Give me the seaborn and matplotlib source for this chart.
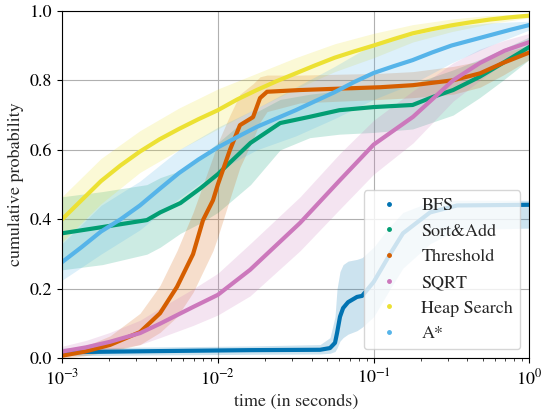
"""Cumulative probability of solving vs. time, per search algorithm."""

import matplotlib
matplotlib.use("Agg")
import matplotlib.pyplot as plt
import numpy as np
import pandas as pd
import seaborn as sns
from matplotlib.lines import Line2D

# each series: log10(time) positions, curve, lower / upper band
BFS_LOG_T = [-3, -2.435, -1.793, -1.344, -1.28, -1.248, -1.235, -1.216, -1.196, -1.164,
             -1.107, -1.074, -1.0, -0.895, -0.812, -0.638, -0.465, 0]
BFS_Y = [0.018, 0.021, 0.024, 0.025, 0.03, 0.045, 0.073, 0.12, 0.145, 0.162,
         0.177, 0.18, 0.22, 0.30, 0.36, 0.42, 0.44, 0.442]
BFS_LO = [0.008, 0.01, 0.012, 0.013, 0.015, 0.02, 0.03, 0.05, 0.06, 0.07,
          0.08, 0.09, 0.12, 0.2, 0.26, 0.33, 0.37, 0.375]
BFS_HI = [0.03, 0.033, 0.036, 0.04, 0.06, 0.12, 0.2, 0.25, 0.27, 0.28,
          0.285, 0.29, 0.32, 0.38, 0.42, 0.45, 0.455, 0.455]

SORT_LOG_T = [-3, -2.74, -2.455, -2.37, -2.24, -2.11, -2.0, -1.79, -1.6, -1.41,
              -1.22, -1.0, -0.75, -0.62, -0.49, -0.32, -0.17, 0]
SORT_Y = [0.36, 0.378, 0.398, 0.42, 0.447, 0.49, 0.53, 0.62, 0.677, 0.695,
          0.714, 0.723, 0.729, 0.752, 0.772, 0.81, 0.85, 0.896]
SORT_LO = [0.255, 0.27, 0.30, 0.32, 0.36, 0.39, 0.42, 0.50, 0.60, 0.635,
           0.645, 0.65, 0.66, 0.68, 0.70, 0.75, 0.80, 0.86]
SORT_HI = [0.465, 0.48, 0.50, 0.52, 0.54, 0.58, 0.62, 0.70, 0.745, 0.76,
           0.77, 0.78, 0.79, 0.81, 0.83, 0.86, 0.89, 0.925]

THR_LOG_T = [-3, -2.852, -2.692, -2.499, -2.371, -2.262, -2.159, -2.095, -2.031, -2.0, -1.922,
             -1.858, -1.774, -1.729, -1.684, -1.472, -0.959, -0.747, -0.49, -0.317, -0.169, 0]
THR_Y = [0.008, 0.02, 0.039, 0.076, 0.13, 0.206, 0.30, 0.398, 0.455, 0.50, 0.60,
         0.671, 0.694, 0.749, 0.767, 0.772, 0.78, 0.786, 0.80, 0.82, 0.85, 0.88]
THR_LO = [0.0, 0.008, 0.02, 0.04, 0.075, 0.12, 0.19, 0.25, 0.31, 0.35, 0.46,
          0.55, 0.63, 0.68, 0.71, 0.735, 0.745, 0.75, 0.76, 0.78, 0.815, 0.86]
THR_HI = [0.02, 0.035, 0.065, 0.13, 0.21, 0.31, 0.42, 0.50, 0.58, 0.62, 0.70,
          0.76, 0.79, 0.81, 0.815, 0.815, 0.82, 0.825, 0.84, 0.855, 0.88, 0.90]

SQRT_LOG_T = [-3, -2.846, -2.692, -2.499, -2.371, -2.159, -2.0, -1.793, -1.472, -1.216, -1.0,
              -0.747, -0.49, -0.317, -0.16, 0]
SQRT_Y = [0.02, 0.032, 0.048, 0.073, 0.10, 0.148, 0.183, 0.255, 0.39, 0.513, 0.615,
          0.695, 0.80, 0.85, 0.885, 0.91]
SQRT_LO = [0.005, 0.014, 0.025, 0.04, 0.06, 0.095, 0.125, 0.18, 0.31, 0.43, 0.53,
           0.62, 0.74, 0.80, 0.85, 0.88]
SQRT_HI = [0.035, 0.052, 0.075, 0.11, 0.145, 0.20, 0.245, 0.33, 0.465, 0.59, 0.685,
           0.77, 0.85, 0.89, 0.915, 0.935]

# Heap Search and A* curves on a fine grid, their bands on a coarse one
FINE_LOG_T = [-3, -2.875, -2.75, -2.625, -2.5, -2.375, -2.25, -2.125, -2, -1.875, -1.75,
              -1.625, -1.5, -1.375, -1.25, -1.125, -1, -0.875, -0.75, -0.625, -0.5,
              -0.375, -0.25, -0.125, 0]
HEAP_Y = [0.40, 0.455, 0.51, 0.555, 0.595, 0.63, 0.66, 0.688, 0.714, 0.745, 0.772,
          0.797, 0.82, 0.843, 0.865, 0.883, 0.90, 0.918, 0.935, 0.947, 0.958,
          0.967, 0.975, 0.981, 0.986]
ASTAR_Y = [0.277, 0.32, 0.365, 0.40, 0.44, 0.487, 0.533, 0.572, 0.607, 0.637, 0.666,
           0.69, 0.714, 0.74, 0.766, 0.795, 0.821, 0.84, 0.858, 0.88, 0.90,
           0.915, 0.93, 0.945, 0.959]

BAND_LOG_T = [-3, -2.75, -2.5, -2.25, -2, -1.75, -1.5, -1.25, -1, -0.75, -0.5, -0.25, 0]
HEAP_LO = [0.335, 0.445, 0.535, 0.60, 0.66, 0.72, 0.775, 0.825, 0.865, 0.91, 0.94, 0.963, 0.98]
HEAP_HI = [0.465, 0.575, 0.655, 0.72, 0.775, 0.82, 0.865, 0.905, 0.935, 0.96, 0.976, 0.987, 0.992]
ASTAR_LO = [0.225, 0.30, 0.37, 0.46, 0.54, 0.60, 0.64, 0.69, 0.745, 0.79, 0.85, 0.90, 0.945]
ASTAR_HI = [0.33, 0.44, 0.51, 0.60, 0.665, 0.72, 0.78, 0.84, 0.905, 0.93, 0.955, 0.965, 0.97]

LABELS = ["BFS", "Sort&Add", "Threshold", "SQRT", "Heap Search", "A*"]
COLORS = ["#0173b2", "#029e73", "#d55e00", "#cc78bc", "#ece133", "#56b4e9"]

CURVES = {
    "BFS": (BFS_LOG_T, BFS_Y),
    "Sort&Add": (SORT_LOG_T, SORT_Y),
    "Threshold": (THR_LOG_T, THR_Y),
    "SQRT": (SQRT_LOG_T, SQRT_Y),
    "Heap Search": (FINE_LOG_T, HEAP_Y),
    "A*": (FINE_LOG_T, ASTAR_Y),
}
BANDS = {
    "BFS": (BFS_LOG_T, BFS_LO, BFS_HI),
    "Sort&Add": (SORT_LOG_T, SORT_LO, SORT_HI),
    "Threshold": (THR_LOG_T, THR_LO, THR_HI),
    "SQRT": (SQRT_LOG_T, SQRT_LO, SQRT_HI),
    "Heap Search": (BAND_LOG_T, HEAP_LO, HEAP_HI),
    "A*": (BAND_LOG_T, ASTAR_LO, ASTAR_HI),
}

sns.set_style("ticks")
plt.rcParams["font.family"] = ["STIXGeneral", "DejaVu Serif"]
plt.rcParams["mathtext.fontset"] = "stix"
plt.rcParams["font.size"] = 13

data = pd.concat(
    [pd.DataFrame({"time": np.power(10.0, log_t), "prob": y, "algo": name})
     for name, (log_t, y) in CURVES.items()],
    ignore_index=True,
)
palette = dict(zip(LABELS, COLORS))

fig = plt.figure(figsize=(5.41, 4.13), dpi=100)
ax = fig.add_axes([0.1146, 0.132, 0.8641, 0.842])

for name in LABELS:
    log_t, lo, hi = BANDS[name]
    ax.fill_between(np.power(10.0, log_t), lo, hi, color=palette[name], alpha=0.2, lw=0)
sns.lineplot(data=data, x="time", y="prob", hue="algo", hue_order=LABELS,
             palette=palette, lw=3, legend=False, ax=ax, sort=False)

ax.set_xscale("log")
ax.set_xlim(1e-3, 1)
ax.set_ylim(0, 1)
ax.set_yticks([0, 0.2, 0.4, 0.6, 0.8, 1.0])
ax.yaxis.set_major_formatter(lambda v, _: f"{v:.1f}")
ax.grid(True, which="major", color="#b0b0b0", lw=0.8)
for side in ["top", "right", "left", "bottom"]:
    ax.spines[side].set_color("black")
ax.tick_params(colors="black", labelsize=13)
ax.set_xlabel("time (in seconds)", fontsize=13)
ax.set_ylabel("cumulative probability", fontsize=13)

handles = [Line2D([], [], ls="", marker="o", ms=2.5, color=c) for c in COLORS]
ax.legend(handles, LABELS, loc="lower right", fontsize=13, framealpha=0.8)

fig.savefig("out.png", dpi=100)
